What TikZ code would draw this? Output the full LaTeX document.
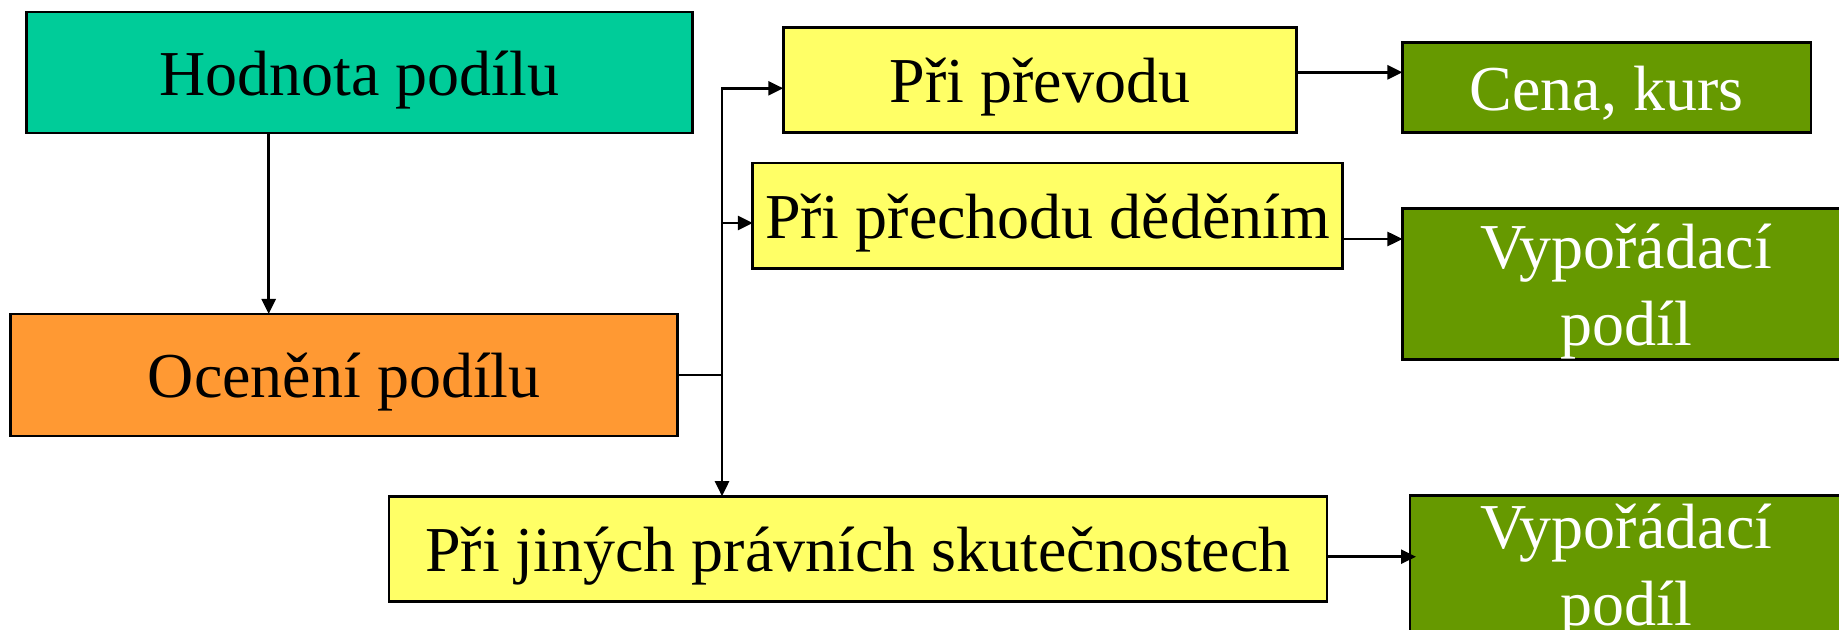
\documentclass[tikz,border=0pt]{standalone}
\usepackage{fontspec}
\setmainfont{Liberation Serif}
\usetikzlibrary{arrows.meta}
\definecolor{hodnotafill}{HTML}{00CC99}
\definecolor{ocenenifill}{HTML}{FF9933}
\definecolor{prifill}{HTML}{FFFF66}
\definecolor{vysledekfill}{HTML}{669900}
\tikzset{
	box/.style={draw=black, line width=1.3pt, inner sep=0pt, outer sep=0pt,
		font=\fontsize{32}{38.5}\selectfont, text height=22.5pt, text depth=0pt},
	vysledek/.style={box, fill=vysledekfill, text=white, align=center, text height=61.7pt},
	arr/.style={line width=1.3pt, -{Triangle[length=7.5pt,width=7pt]}},
	arrboth/.style={line width=1.3pt, {Triangle[length=7.5pt,width=7pt]}-{Triangle[length=7.5pt,width=7pt]}},
	spoj/.style={line width=1.3pt}
}
\begin{document}
\begin{tikzpicture}[x=0.5pt,y=-0.5pt]
	\useasboundingbox (0,0) rectangle (1839,630);
	\clip (0,0) rectangle (1839,630);
	\node[box, fill=hodnotafill, minimum width=333pt, minimum height=60.5pt] (hodnota) at (359.4,72.7) {Hodnota podílu};
	\node[box, fill=ocenenifill, minimum width=333.5pt, minimum height=61pt] (oceneni) at (344.2,375) {Ocenění podílu};
	\node[box, fill=prifill, minimum width=256.75pt, minimum height=52.7pt] (prevod) at (1040,80) {Při převodu};
	\node[box, fill=prifill, minimum width=294.85pt, minimum height=52.6pt] (dedeni) at (1047.6,215.8) {Při přechodu děděním};
	\node[box, fill=prifill, minimum width=468.9pt, minimum height=52.7pt] (jine) at (857.9,548.9) {Při jiných právních skutečnostech};
	\node[box, fill=vysledekfill, text=white, minimum width=204.25pt, minimum height=45.1pt] (cena) at (1606.7,87.6) {Cena, kurs};
	\node[vysledek, minimum width=223.75pt, minimum height=75.5pt] (vyp1) at (1626.2,283.8) {Vypořádací\\podíl};
	\node[vysledek, minimum width=216.5pt, minimum height=68.5pt] (vyp2) at (1626.5,564.2) {Vypořádací\\podíl};
	\coordinate (svislice) at (268.7,0);
	\coordinate (rozcesti1) at (722,88.3);
	\coordinate (rozcesti2) at (722,223);
	\coordinate (vpravo1) at (0,72.3);
	\coordinate (vpravo2) at (0,239);
	\coordinate (vpravo3) at (0,556.7);
	\draw[arr] (hodnota.south -| svislice) -- (oceneni.north -| svislice);
	\draw[spoj] (oceneni.east) -- (oceneni.east -| rozcesti1);
	\draw[arrboth] (prevod.west |- rozcesti1) -- (rozcesti1) -- (rozcesti1 |- jine.north);
	\draw[arr] (rozcesti2) -- (dedeni.west |- rozcesti2);
	\draw[arr] (prevod.east |- vpravo1) -- (cena.west |- vpravo1);
	\draw[arr] (dedeni.east |- vpravo2) -- (vyp1.west |- vpravo2);
	\draw[arr, shorten >=-3pt] (jine.east |- vpravo3) -- (vyp2.west |- vpravo3);
\end{tikzpicture}
\end{document}
